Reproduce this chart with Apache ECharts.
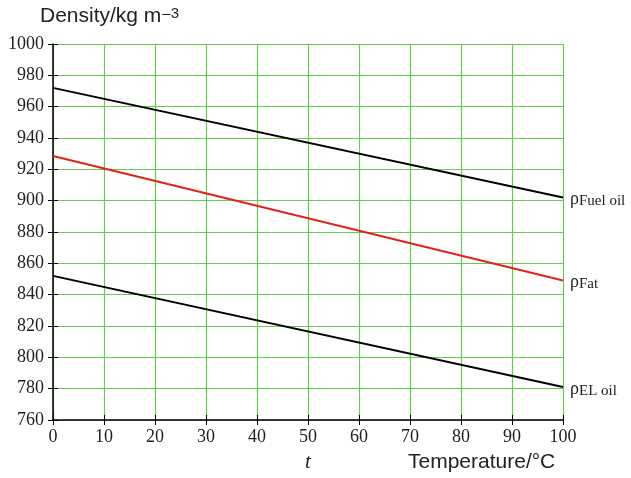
<!DOCTYPE html>
<html>
<head>
<meta charset="utf-8">
<script src="https://cdn.jsdelivr.net/npm/echarts@6/dist/echarts.min.js"></script>
<style>
  html, body { margin: 0; padding: 0; background: #fff; }
  #chart { width: 631px; height: 478px; }
</style>
</head>
<body>
<div id="chart"></div>
<script>
// temperature, °C
const temps = [0, 100];
// densities, kg/m3, read at both ends of each line
const fuelOil = [972, 902];
const fat = [928.5, 849];
const elOil = [852, 781];

const serif = "'Liberation Serif', 'DejaVu Serif', serif";
const sans = "'Liberation Sans', Arial, sans-serif";
const gridGreen = "#66cc4f";

const chart = echarts.init(document.getElementById("chart"));

function lineSeries(name, data, color, sub) {
  return {
    name: name,
    type: "line",
    xAxisIndex: 0,
    yAxisIndex: 0,
    data: temps.map((t, i) => [t, data[i]]),
    symbol: "none",
    lineStyle: { color: color, width: 2 },
    z: 5,
    endLabel: {
      show: true,
      distance: 7,
      formatter: () => "{rho|ρ}{sub|" + sub + "}",
      rich: {
        rho: { fontFamily: serif, fontSize: 18, color: "#222", verticalAlign: "bottom" },
        sub: { fontFamily: serif, fontSize: 15, color: "#222", padding: [7, 0, 0, 0] },
      },
    },
  };
}

// second pair of axes only draws the inner half of the crossing ticks
const option = {
  animation: false,
  grid: { left: 53, right: 68, top: 44, bottom: 58 },
  xAxis: [
    {
      type: "value",
      min: 0,
      max: 100,
      interval: 10,
      axisLine: { show: true, lineStyle: { color: "#000", width: 1.5 } },
      axisTick: { show: true, length: 5, lineStyle: { color: "#000" } },
      axisLabel: { color: "#222", fontFamily: serif, fontSize: 18, margin: 8 },
      splitLine: { show: true, lineStyle: { color: gridGreen, width: 1.2 } },
    },
    {
      type: "value",
      position: "bottom",
      min: 0,
      max: 100,
      interval: 10,
      axisLine: { show: false },
      axisTick: { show: true, inside: true, length: 5, lineStyle: { color: "#000" } },
      axisLabel: { show: false },
      splitLine: { show: false },
    },
  ],
  yAxis: [
    {
      type: "value",
      min: 760,
      max: 1000,
      interval: 20,
      axisLine: { show: true, lineStyle: { color: "#000", width: 1.5 } },
      axisTick: { show: true, length: 5, lineStyle: { color: "#000" } },
      axisLabel: { color: "#222", fontFamily: serif, fontSize: 18, margin: 9, formatter: (v) => String(v) },
      splitLine: { show: true, lineStyle: { color: gridGreen, width: 1.2 } },
    },
    {
      type: "value",
      position: "left",
      min: 760,
      max: 1000,
      interval: 20,
      axisLine: { show: false },
      axisTick: { show: true, inside: true, length: 5, lineStyle: { color: "#000" } },
      axisLabel: { show: false },
      splitLine: { show: false },
    },
  ],
  series: [
    lineSeries("Fuel oil", fuelOil, "#000", "Fuel oil"),
    lineSeries("Fat", fat, "#e2231a", "Fat"),
    lineSeries("EL oil", elOil, "#000", "EL oil"),
  ],
  graphic: [
    {
      type: "text",
      left: 40,
      top: 6,
      style: {
        text: "Density/kg m{sup|–3}",
        font: "21px " + sans,
        fill: "#222",
        rich: { sup: { fontFamily: sans, fontSize: 15, fill: "#222", padding: [0, 0, 5, 1] } },
      },
    },
    {
      type: "text",
      left: 305,
      top: 452,
      style: { text: "t", font: "italic 21px " + serif, fill: "#222" },
    },
    {
      type: "text",
      left: 408,
      top: 452,
      style: { text: "Temperature/°C", font: "21px " + sans, fill: "#222" },
    },
  ],
};

chart.setOption(option);
</script>
</body>
</html>
